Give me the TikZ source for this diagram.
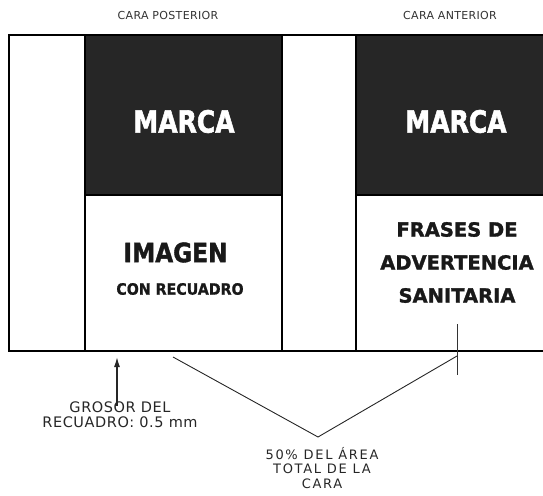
\documentclass[tikz,border=0pt]{standalone}
\usepackage{fontspec}
\setmainfont{DejaVu Sans}
\usetikzlibrary{arrows.meta}
\begin{document}
\begin{tikzpicture}[x=1pt,y=-1pt,
  panel/.style={draw=black, line width=2pt, anchor=north west, inner sep=0pt, outer sep=0pt},
  dark/.style={panel, fill=black!85},
  light/.style={panel, fill=white},
  facetitle/.style={font=\fontsize{11}{13}\selectfont\addfontfeatures{LetterSpace=3}, text=black!80},
  note/.style={font=\fontsize{14.5}{15}\selectfont\addfontfeatures{LetterSpace=4}, align=center, text=black!85, inner sep=0pt},
  brand/.style={font=\bfseries\fontsize{25}{30}\selectfont\addfontfeatures{FakeBold=2}, text=white},
  big/.style={font=\bfseries\fontsize{19.5}{33}\selectfont\addfontfeatures{FakeBold=1.5}, align=center, text=black!90},
  thin/.style={line width=0.9pt, black!85}]
\useasboundingbox (0,0) rectangle (543,495);
% outer frame
\node[panel, minimum width=540pt, minimum height=316pt] (outer) at (9,35) {};
% posterior face
\node[dark, minimum width=197pt, minimum height=160pt] (pdark) at (85,35) {};
\node[light, minimum width=197pt, minimum height=156pt] (plight) at (85,195) {};
% anterior face
\node[dark, minimum width=192pt, minimum height=160pt] (adark) at (356,35) {};
\node[light, minimum width=192pt, minimum height=156pt] (alight) at (356,195) {};
% titles
\node[facetitle] (tpost) at (168,15) {CARA POSTERIOR};
\node[facetitle] (tant) at (450,15) {CARA ANTERIOR};
% texts
\node[brand] (m1) at (184,121.5) {\scalebox{1}[1.22]{MARCA}};
\node[brand] (m2) at (456,121.5) {\scalebox{1}[1.22]{MARCA}};
\node[font=\bfseries\fontsize{23.2}{28}\selectfont\addfontfeatures{FakeBold=1.5}, text=black!90] (img) at (175.5,252.5) {\scalebox{1}[1.15]{IMAGEN}};
\node[font=\bfseries\fontsize{14.2}{17}\selectfont\addfontfeatures{FakeBold=1}, text=black!90] (rec) at (180,289) {\scalebox{1}[1.1]{CON RECUADRO}};
\node[big] (fr) at (457,262.5) {FRASES DE\\ADVERTENCIA\\SANITARIA};
% bottom notes
\node[note] (gros) at (120,415) {GROSOR DEL\\RECUADRO: 0.5 mm};
\node[note, font=\fontsize{13}{14.5}\selectfont\addfontfeatures{LetterSpace=13}] (area) at (322,468) {50\% DEL ÁREA\\TOTAL DE LA\\CARA};
% connectors
\coordinate (arrtip) at (117,357);
\draw[thin, line width=1.3pt, -{Latex[length=10pt,width=6pt]}] ([yshift=-4pt]gros.north -| arrtip) -- (arrtip);
\coordinate (vl) at (173,357);
\coordinate (vv) at (318,437);
\coordinate (vr) at (457,356);
\draw[thin] (vl) -- (vv) -- (vr);
\coordinate (st) at (457,324);
\coordinate (sb) at (457,375);
\draw[line width=0.6pt, black!80] (st) -- (sb);
\end{tikzpicture}
\end{document}
